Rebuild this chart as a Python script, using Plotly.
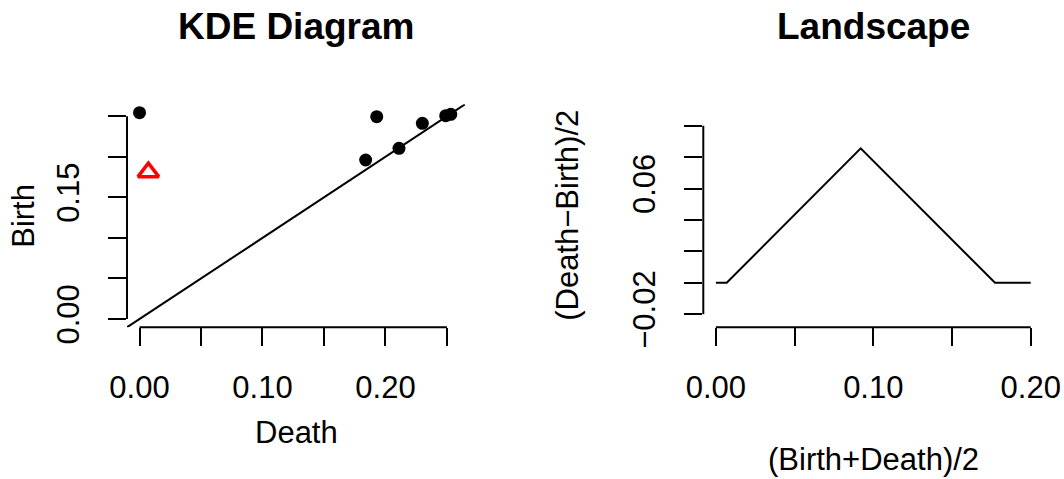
import plotly.graph_objects as go

# ---------------- data ----------------
# KDE persistence diagram: points (x = Death, y = Birth)
diag_death = [0.0, 0.1929, 0.1839, 0.2110, 0.2300, 0.2490, 0.2531]
diag_birth = [0.2543, 0.2494, 0.1960, 0.2104, 0.2412, 0.2506, 0.2523]
# highlighted (red triangle) feature
sel_death = [0.0072]
sel_birth = [0.1810]

# persistence landscape (knots of the piecewise-linear curve)
land_t = [0.0, 0.0069, 0.0920, 0.1773, 0.2000]
land_v = [0.0, 0.0, 0.0856, 0.0, 0.0]

# axis limits (before R's 4% extension)
diag_lim = [0.0, 0.2545]
land_xlim = [0.0, 0.2]
land_ylim = [-0.0231, 0.1084]

# ticks and their labels (R drops overlapping labels)
diag_ticks = [0.0, 0.05, 0.10, 0.15, 0.20, 0.25]
diag_x_text = ["0.00", "", "0.10", "", "0.20", ""]
diag_y_text = ["0.00", "", "", "0.15", "", ""]
land_x_ticks = [0.0, 0.05, 0.10, 0.15, 0.20]
land_x_text = ["0.00", "", "0.10", "", "0.20"]
land_y_ticks = [-0.02, 0.0, 0.02, 0.04, 0.06, 0.08, 0.10]
land_y_text = ["\u22120.02", "", "", "", "0.06", "", ""]

# ---------------- layout geometry ----------------
W, H = 1064, 479
FONT = "Liberation Sans, Arial, Helvetica, sans-serif"
FS = 31
TFS = 37
LW = 2


def ext(lim):
    d = lim[1] - lim[0]
    return [lim[0] - 0.04 * d, lim[1] + 0.04 * d]


def dx(px):
    return px / W


def dy(py):
    return 1 - py / H


# plot regions in pixels
L_X = [127.0, 465.0]
R_X = [703.3, 1043.3]
P_Y = [104.3, 327.3]  # top, bottom

x1_dom = [dx(L_X[0]), dx(L_X[1])]
x2_dom = [dx(R_X[0]), dx(R_X[1])]
y_dom = [dy(P_Y[1]), dy(P_Y[0])]

x1_rng = ext(diag_lim)
y1_rng = ext(diag_lim)
x2_rng = ext(land_xlim)
y2_rng = ext(land_ylim)


def to_paper(v, dom, rng):
    return dom[0] + (v - rng[0]) / (rng[1] - rng[0]) * (dom[1] - dom[0])


fig = go.Figure()

# diagonal y = x
fig.add_trace(go.Scatter(x=x1_rng, y=y1_rng, mode="lines",
                         line=dict(color="black", width=LW),
                         xaxis="x", yaxis="y", showlegend=False, hoverinfo="skip"))
# diagram points
fig.add_trace(go.Scatter(x=diag_death, y=diag_birth, mode="markers",
                         marker=dict(color="black", size=13, symbol="circle"),
                         xaxis="x", yaxis="y", showlegend=False, cliponaxis=False))
fig.add_trace(go.Scatter(x=sel_death, y=sel_birth, mode="markers",
                         marker=dict(color="red", size=18, symbol="triangle-up-open",
                                     line=dict(color="red", width=3.5)),
                         xaxis="x", yaxis="y", showlegend=False, cliponaxis=False))
# landscape
fig.add_trace(go.Scatter(x=land_t, y=land_v, mode="lines",
                         line=dict(color="black", width=LW),
                         xaxis="x2", yaxis="y2", showlegend=False))

axis_common = dict(showgrid=False, zeroline=False, showline=False,
                   automargin=False,
                   ticks="outside", ticklen=18, tickwidth=LW, tickcolor="black",
                   tickfont=dict(family=FONT, size=FS, color="black"),
                   tickmode="array", fixedrange=True)

fig.update_layout(
    width=W, height=H, autosize=False,
    margin=dict(l=0, r=0, t=0, b=0, pad=0, autoexpand=False),
    paper_bgcolor="white", plot_bgcolor="white",
    xaxis=dict(domain=x1_dom, range=x1_rng, anchor="y",
               tickvals=diag_ticks, ticktext=diag_x_text,
               ticklabelstandoff=14, **axis_common),
    yaxis=dict(domain=y_dom, range=y1_rng, anchor="x",
               tickvals=diag_ticks, ticktext=diag_y_text, tickangle=-90,
               ticklabelstandoff=17, **axis_common),
    xaxis2=dict(domain=x2_dom, range=x2_rng, anchor="y2",
                tickvals=land_x_ticks, ticktext=land_x_text,
                ticklabelstandoff=14, **axis_common),
    yaxis2=dict(domain=y_dom, range=y2_rng, anchor="x2",
                tickvals=land_y_ticks, ticktext=land_y_text, tickangle=-90,
                ticklabelstandoff=17, **axis_common),
)

# R-style axis lines spanning first to last tick
shapes = []
line_style = dict(color="black", width=LW)
shapes.append(dict(type="line", xref="paper", yref="paper",
                   x0=to_paper(diag_ticks[0], x1_dom, x1_rng),
                   x1=to_paper(diag_ticks[-1], x1_dom, x1_rng),
                   y0=y_dom[0], y1=y_dom[0], line=line_style))
shapes.append(dict(type="line", xref="paper", yref="paper",
                   x0=x1_dom[0], x1=x1_dom[0],
                   y0=to_paper(diag_ticks[0], y_dom, y1_rng),
                   y1=to_paper(diag_ticks[-1], y_dom, y1_rng), line=line_style))
shapes.append(dict(type="line", xref="paper", yref="paper",
                   x0=to_paper(land_x_ticks[0], x2_dom, x2_rng),
                   x1=to_paper(land_x_ticks[-1], x2_dom, x2_rng),
                   y0=y_dom[0], y1=y_dom[0], line=line_style))
shapes.append(dict(type="line", xref="paper", yref="paper",
                   x0=x2_dom[0], x1=x2_dom[0],
                   y0=to_paper(land_y_ticks[0], y_dom, y2_rng),
                   y1=to_paper(land_y_ticks[-1], y_dom, y2_rng), line=line_style))
fig.update_layout(shapes=shapes)

# titles and axis labels
def txt(text, x, y, size=FS, bold=False, angle=0):
    return dict(text=("<b>%s</b>" % text) if bold else text,
                x=dx(x), y=dy(y), xref="paper", yref="paper",
                xanchor="center", yanchor="middle", showarrow=False,
                textangle=angle, font=dict(family=FONT, size=size, color="black"))

cx1 = (L_X[0] + L_X[1]) / 2
cx2 = (R_X[0] + R_X[1]) / 2
cy = (P_Y[0] + P_Y[1]) / 2
fig.update_layout(annotations=[
    txt("KDE Diagram", cx1, 26, size=TFS, bold=True),
    txt("Landscape", cx2, 26, size=TFS, bold=True),
    txt("Death", cx1, 432.5),
    txt("Birth", 24, cy, angle=-90),
    txt("(Birth+Death)/2", cx2, 459),
    txt("(Death\u2212Birth)/2", 568, cy, angle=-90),
])

fig.write_html(
    "out.html",
    config={"displayModeBar": False},
    post_script="document.body.style.margin='0px';document.body.style.overflow='hidden';",
)
